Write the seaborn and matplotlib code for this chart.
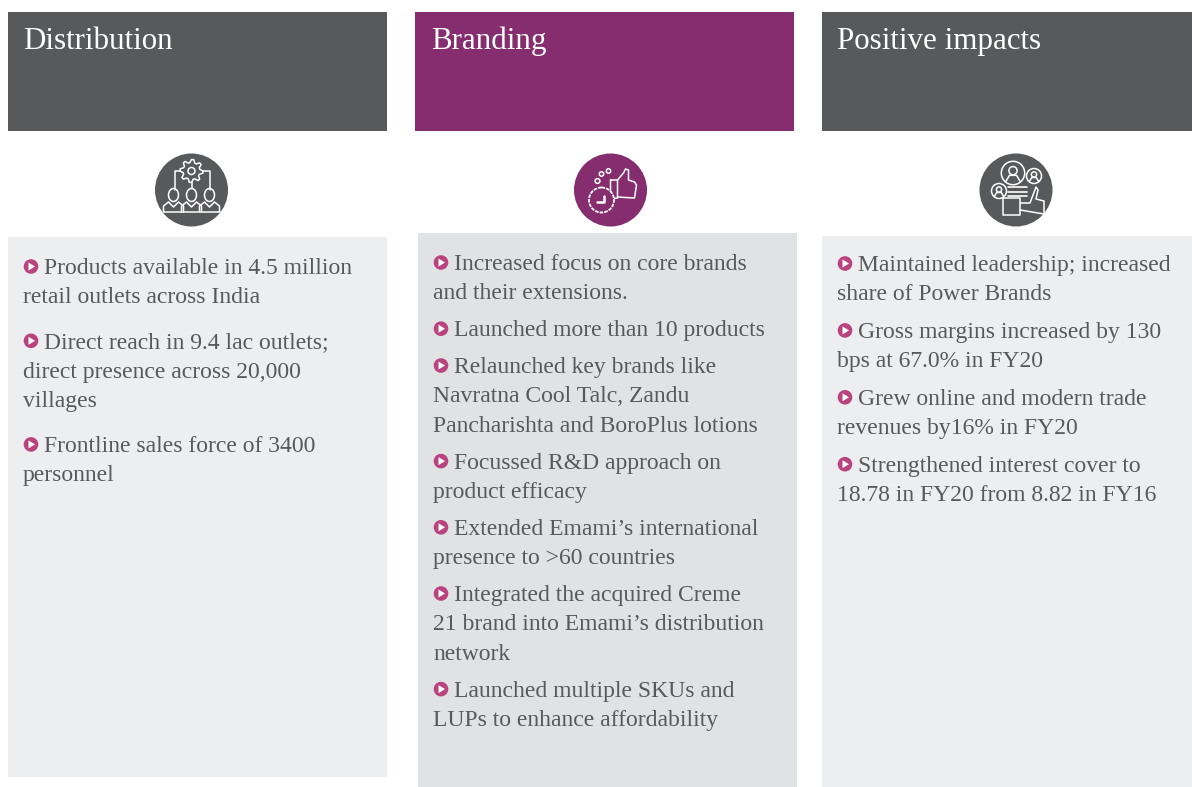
import numpy as np
import matplotlib.pyplot as plt
from matplotlib.patches import Rectangle, Circle, Polygon, Ellipse
import seaborn as sns

sns.set_theme(style="white")
plt.rcParams['font.family'] = ['Liberation Serif', 'DejaVu Serif']

titles = ["Distribution", "Branding", "Positive impacts"]
distribution = [
    ["Products available in 4.5 million", "retail outlets across India"],
    ["Direct reach in 9.4 lac outlets;", "direct presence across 20,000", "villages"],
    ["Frontline sales force of 3400", "personnel"],
]
branding = [
    ["Increased focus on core brands", "and their extensions."],
    ["Launched more than 10 products"],
    ["Relaunched key brands like", "Navratna Cool Talc, Zandu", "Pancharishta and BoroPlus lotions"],
    ["Focussed R&D approach on", "product efficacy"],
    ["Extended Emami\u2019s international", "presence to >60 countries"],
    ["Integrated the acquired Creme", "21 brand into Emami\u2019s distribution", "network"],
    ["Launched multiple SKUs and", "LUPs to enhance affordability"],
]
impacts = [
    ["Maintained leadership; increased", "share of Power Brands"],
    ["Gross margins increased by 130", "bps at 67.0% in FY20"],
    ["Grew online and modern trade", "revenues by16% in FY20"],
    ["Strengthened interest cover to", "18.78 in FY20 from 8.82 in FY16"],
]

GREY = "#58595b"
PURPLE = "#852d6e"
PINK = "#b9437f"
TEXT = "#58595b"
TXT_SIZE = 17.0

fig = plt.figure(figsize=(11.92, 7.87), dpi=100)
ax = fig.add_axes([0, 0, 1, 1])
ax.set_xlim(0, 1192)
ax.set_ylim(787, 0)
ax.axis("off")


def rect(x0, y0, x1, y1, color):
    ax.add_patch(Rectangle((x0, y0), x1 - x0, y1 - y0, fc=color, ec="none"))


def line(cx, cy, pts, lw=1.1):
    pts = np.array(pts, dtype=float)
    ax.plot(cx + pts[:, 0], cy + pts[:, 1], color="white", lw=lw,
            solid_capstyle="round", solid_joinstyle="round", zorder=4)


def ring(cx, cy, r, fc="none", lw=1.1):
    ax.add_patch(Circle((cx, cy), r, fc=fc, ec="white", lw=lw, zorder=4))


def person(cx, cy):
    ax.add_patch(Ellipse((cx, cy - 6), 10, 13, fc="none", ec="white", lw=1.1, zorder=4))
    line(cx, cy, [(-10, 11), (-10, 5), (-5, 1), (0, 6), (5, 1), (10, 5), (10, 11)])


def icon_team(cx, cy):
    for dx in (-18, 0, 18):
        person(cx + dx, cy + 11)
    line(cx, cy, [(-28, 22), (28, 22)])
    # gear
    t = np.linspace(0, 2 * np.pi, 33)[:-1]
    r = np.where(np.arange(32) % 4 < 2, 11.5, 8.5)
    line(cx, cy - 19, np.column_stack([np.append(r * np.cos(t), r[0]), np.append(r * np.sin(t), 0)]))
    ring(cx, cy - 19, 3.5)
    line(cx, cy, [(-12, -19), (-17, -19), (-17, 0)])
    line(cx, cy, [(12, -19), (18, -19), (18, 0)])
    line(cx, cy, [(0, -8), (0, -2)])


def icon_thumb(cx, cy):
    line(cx, cy, [(0, -10), (7, -10), (7, 8), (0, 9), (0, -10)])
    line(cx, cy, [(7, -10), (13, -17), (15, -21), (18, -20), (18, -10),
                  (24, -8), (26, -5), (24, 8), (7, 7)])
    # stopwatch
    ax.add_patch(Circle((cx - 9, cy + 10), 12.5, fc=PURPLE, ec="white", lw=1.3,
                        ls=(0, (2, 0.6)), zorder=5))
    ax.plot([cx - 14, cx - 7, cx - 7], [cy + 12, cy + 12, cy + 6], color="white", lw=1.8, zorder=6)
    for dx, dy, rx in [(-13, -9, 2.4), (-9, -16, 2.2), (-2, -19, 2.2)]:
        ring(cx + dx, cy + dy, rx)


def icon_people(cx, cy):
    for dx, dy, r in [(-3, -17, 11.7), (18, -14, 7.5), (-17, 1, 7.5)]:
        ring(cx + dx, cy + dy, r)
        ring(cx + dx, cy + dy - r * 0.2, r * 0.35)
        line(cx + dx, cy + dy, [(-r * 0.6, r * 0.7), (-r * 0.3, r * 0.2), (r * 0.3, r * 0.2), (r * 0.6, r * 0.7)])
    for dy in (-3, 2, 6):
        line(cx, cy, [(-8, dy), (11, dy)], lw=1.2)
    line(cx, cy, [(-13, 8), (4, 8), (4, 25), (-13, 25), (-13, 8)])
    line(cx, cy, [(4, 13), (14, 13), (20, -3), (22, 0), (20, 9), (28, 11), (28, 24), (4, 20)])
    for dx in (-9, -6, -3):
        line(cx, cy, [(dx, 18), (dx + 0.4, 18)], lw=1.2)


def bullets(paragraphs, left, first_y, line_gap, para_gap):
    y = first_y
    for para in paragraphs:
        ax.add_patch(Circle((left + 8, y - 0.5), 7.3, fc=PINK, ec="none"))
        ax.add_patch(Polygon([(left + 5.5, y - 4.5), (left + 5.5, y + 3.5), (left + 12, y - 0.5)], fc="white", ec="none"))
        for i, txt in enumerate(para):
            ax.text(left + 21 if i == 0 else left, y + 7, txt, color=TEXT, fontsize=TXT_SIZE,
                    va="baseline", ha="left")
            if i < len(para) - 1:
                y += line_gap
        y += para_gap


# headers
rect(8, 12, 387, 131, GREY)
rect(415, 12, 794, 131, PURPLE)
rect(822, 12, 1192, 131, GREY)
for x, t in zip((23, 431, 837), titles):
    ax.text(x, 49, t, color="white", fontsize=22.3, va="baseline", ha="left")

# body panels
rect(8, 237, 387, 777, "#edeef0")
rect(418, 233, 797, 787, "#e1e2e4")
rect(822, 236, 1192, 787, "#edeef0")

# icons
ax.add_patch(Circle((191.5, 190), 36.5, fc=GREY, ec="none"))
ax.add_patch(Circle((610.5, 190), 36.5, fc=PURPLE, ec="none"))
ax.add_patch(Circle((1016, 190), 36.5, fc=GREY, ec="none"))
icon_team(191.5, 190)
icon_thumb(610.5, 190)
icon_people(1016, 190)

bullets(distribution, 23, 267, 29.3, 45)
bullets(branding, 433, 263, 29.4, 36.8)
bullets(impacts, 837, 264, 29.2, 37.7)

fig.savefig("out.png", dpi=100)
